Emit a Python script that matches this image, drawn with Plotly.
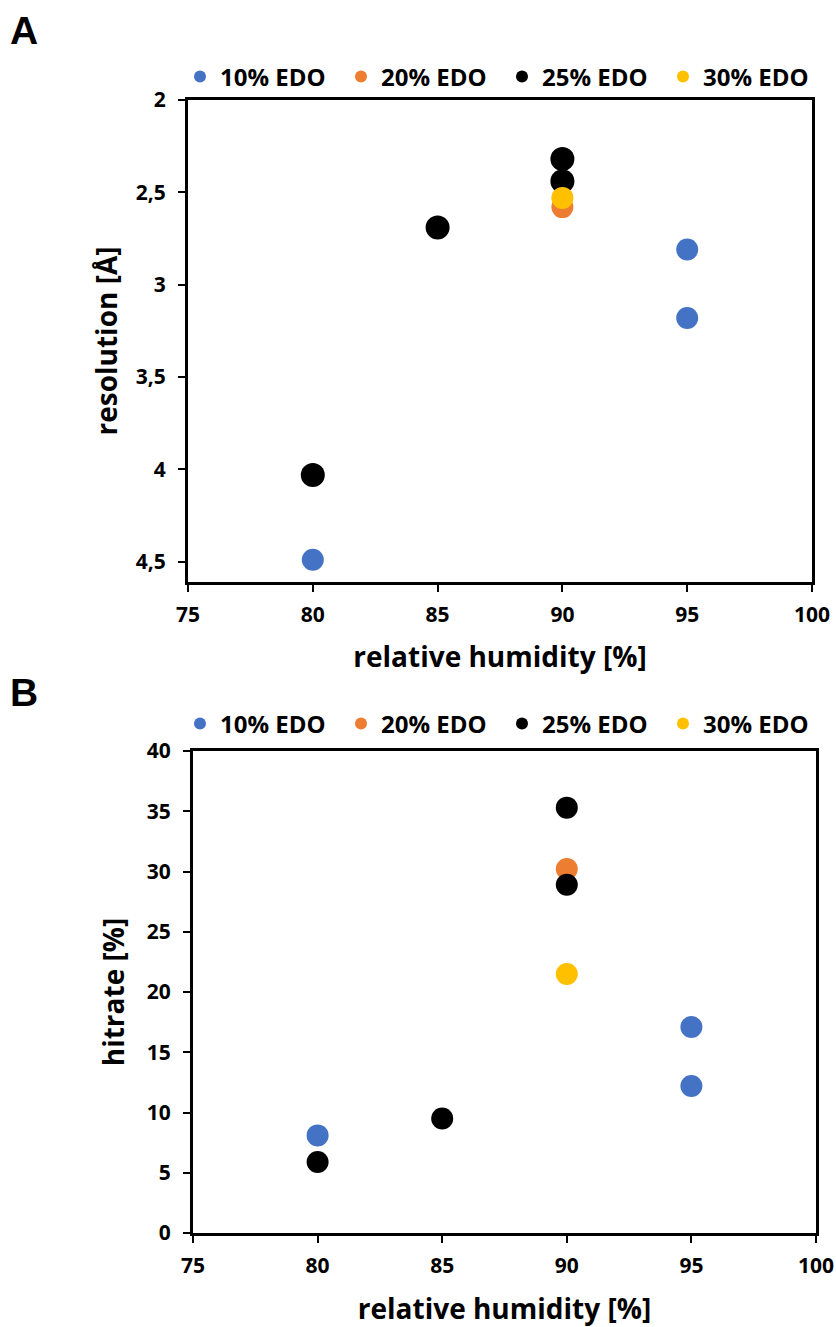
import plotly.graph_objects as go

# ---------------- data ----------------
series_names = ["10% EDO", "20% EDO", "25% EDO", "30% EDO"]
series_colors = ["#4472C4", "#ED7D31", "#000000", "#FFC000"]

# Panel A: resolution [Å]
res_x = {
    "10% EDO": [80, 95, 95],
    "20% EDO": [90],
    "25% EDO": [80, 85, 90, 90],
    "30% EDO": [90],
}
res_y = {
    "10% EDO": [4.49, 2.81, 3.18],
    "20% EDO": [2.58],
    "25% EDO": [4.03, 2.69, 2.32, 2.44],
    "30% EDO": [2.53],
}

# Panel B: hitrate [%]
hit_x = {
    "10% EDO": [80, 95, 95],
    "20% EDO": [90],
    "25% EDO": [80, 85, 90, 90],
    "30% EDO": [90],
}
hit_y = {
    "10% EDO": [8.1, 12.2, 17.1],
    "20% EDO": [30.2],
    "25% EDO": [5.9, 9.5, 35.3, 28.9],
    "30% EDO": [21.5],
}

x_ticks = [75, 80, 85, 90, 95, 100]
res_ticks = [2, 2.5, 3, 3.5, 4, 4.5]
res_ticktext = ["2", "2,5", "3", "3,5", "4", "4,5"]
hit_ticks = [0, 5, 10, 15, 20, 25, 30, 35, 40]

FONT = "Open Sans"
W, H = 836, 1327


def fx(px):
    return px / W


def fy(py):
    return 1 - py / H


fig = go.Figure()

for name, col in zip(series_names, series_colors):
    size_a = 24 if col == "#000000" else 22
    fig.add_trace(go.Scatter(
        x=res_x[name], y=res_y[name], mode="markers", name=name,
        marker=dict(color=col, size=size_a, line=dict(width=0)),
        xaxis="x", yaxis="y", legend="legend", showlegend=True))
for name, col in zip(series_names, series_colors):
    fig.add_trace(go.Scatter(
        x=hit_x[name], y=hit_y[name], mode="markers", name=name,
        marker=dict(color=col, size=22, line=dict(width=0)),
        xaxis="x2", yaxis="y2", legend="legend2", showlegend=True))

axis_common = dict(
    showgrid=False, zeroline=False, showline=True, linecolor="black", linewidth=3,
    mirror=True, ticks="outside", ticklen=7, tickwidth=2, tickcolor="black",
    automargin=False,
    tickfont=dict(family=FONT, size=21, color="black", weight="bold"),
)
title_font = dict(family=FONT, size=28, color="black", weight="bold")
legend_common = dict(
    orientation="h", xanchor="left", yanchor="middle",
    entrywidth=116, entrywidthmode="pixels", itemsizing="constant",
    font=dict(family=FONT, size=24, color="black", weight="bold"),
    bgcolor="rgba(0,0,0,0)", tracegroupgap=0,
)

fig.update_layout(
    width=W, height=H,
    margin=dict(l=0, r=0, t=0, b=0),
    paper_bgcolor="white", plot_bgcolor="white",
    font=dict(family=FONT, color="black"),
    xaxis=dict(domain=[fx(188), fx(812)], anchor="y", range=[75, 100],
               tickvals=x_ticks, ticklabelstandoff=5,
               title=dict(text="relative humidity [%]", standoff=21, font=title_font),
               **axis_common),
    yaxis=dict(domain=[fy(582), fy(100)], anchor="x", range=[4.61, 2],
               tickvals=res_ticks, ticktext=res_ticktext, ticklabelstandoff=8,
               title=dict(text="resolution [Å]", standoff=10, font=title_font),
               **axis_common),
    xaxis2=dict(domain=[fx(193), fx(816)], anchor="y2", range=[75, 100],
                tickvals=x_ticks, ticklabelstandoff=5,
                title=dict(text="relative humidity [%]", standoff=26, font=title_font),
                **axis_common),
    yaxis2=dict(domain=[fy(1233), fy(751)], anchor="x2", range=[0, 40],
                tickvals=hit_ticks, ticklabelstandoff=8,
                title=dict(text="hitrate [%]", standoff=14, font=title_font),
                **axis_common),
    legend=dict(x=fx(180), y=fy(77), **legend_common),
    legend2=dict(x=fx(180), y=fy(724), **legend_common),
    annotations=[
        dict(text="A", x=fx(8), y=fy(30), xref="paper", yref="paper",
             xanchor="left", yanchor="middle", showarrow=False,
             font=dict(family="Liberation Sans", size=39, color="black", weight="bold")),
        dict(text="B", x=fx(8), y=fy(692), xref="paper", yref="paper",
             xanchor="left", yanchor="middle", showarrow=False,
             font=dict(family="Liberation Sans", size=39, color="black", weight="bold")),
    ],
)

# remove the default 8px page margin so the 836x1327 figure fills the window exactly
fig.write_html("out.html",
               config={"displayModeBar": False},
               post_script="document.body.style.margin='0';document.body.style.overflow='hidden';")
